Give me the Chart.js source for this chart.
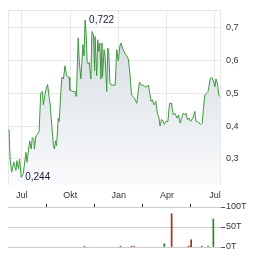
<!DOCTYPE html>
<html>
<head>
<meta charset="utf-8">
<script src="https://cdn.jsdelivr.net/npm/chart.js@4/dist/chart.umd.min.js"></script>
<style>
  body { margin: 0; background: #fff; }
  #wrap { position: relative; width: 264px; height: 255px; }
  #priceChart { position: absolute; left: 0; top: 0; }
  #volChart { position: absolute; left: 0; top: 195px; }
</style>
</head>
<body>
<div id="wrap">
  <canvas id="priceChart" width="264" height="202"></canvas>
  <canvas id="volChart" width="264" height="60"></canvas>
</div>
<script>
// --- Data (days counted from 1 Jul 2023) ---
const priceDays = [
  -24, -22, -19, -15, -11, -9, -6, -4, -1, 3,
  8, 10, 15, 18, 20, 23, 24, 27, 30, 33,
  36, 39, 41, 44, 47, 49, 52, 54, 57, 60,
  62, 64, 66, 68, 69, 71, 74, 76, 79, 82,
  85, 90, 91, 97, 101, 103, 104, 107, 109, 112,
  114, 116, 118, 120, 122, 124, 126, 128, 131, 133,
  136, 138, 139, 142, 144, 146, 148, 150, 152, 153,
  156, 158, 161, 163, 165, 167, 170, 173, 177, 180,
  183, 186, 188, 192, 196, 199, 202, 205, 208, 211,
  215, 218, 221, 223, 227, 230, 234, 237, 240, 242,
  245, 247, 251, 254, 257, 260, 262, 265, 268, 270,
  273, 277, 280, 283, 284, 287, 290, 294, 297, 300,
  303, 306, 309, 311, 314, 317, 320, 324, 326, 328,
  330, 333, 336, 339, 342, 344, 347, 350, 353, 357,
  360, 363, 366, 368, 371, 373, 376
];
const prices = [
  0.390, 0.300, 0.260, 0.290, 0.265, 0.295, 0.270, 0.300, 0.244, 0.256,
  0.320, 0.290, 0.355, 0.330, 0.365, 0.360, 0.330, 0.370, 0.375, 0.385,
  0.500, 0.505, 0.464, 0.495, 0.518, 0.526, 0.487, 0.464, 0.400, 0.340,
  0.330, 0.355, 0.340, 0.390, 0.424, 0.414, 0.500, 0.548, 0.543, 0.583,
  0.553, 0.548, 0.509, 0.505, 0.505, 0.490, 0.514, 0.667, 0.598, 0.543,
  0.593, 0.647, 0.613, 0.722, 0.682, 0.593, 0.588, 0.593, 0.543, 0.687,
  0.677, 0.568, 0.672, 0.553, 0.662, 0.627, 0.652, 0.543, 0.652, 0.548,
  0.632, 0.608, 0.505, 0.637, 0.623, 0.533, 0.524, 0.524, 0.524, 0.632,
  0.598, 0.643, 0.652, 0.632, 0.618, 0.613, 0.603, 0.558, 0.494, 0.490,
  0.480, 0.469, 0.509, 0.533, 0.524, 0.524, 0.519, 0.519, 0.524, 0.505,
  0.475, 0.480, 0.464, 0.475, 0.439, 0.424, 0.400, 0.420, 0.414, 0.405,
  0.414, 0.414, 0.469, 0.469, 0.464, 0.434, 0.439, 0.424, 0.434, 0.409,
  0.424, 0.439, 0.434, 0.439, 0.419, 0.424, 0.414, 0.424, 0.434, 0.444,
  0.414, 0.414, 0.409, 0.404, 0.409, 0.449, 0.494, 0.499, 0.505, 0.543,
  0.548, 0.538, 0.519, 0.543, 0.528, 0.494, 0.490
];

const volDays = [119, 187, 208, 213, 270, 284, 316, 319, 321, 341, 353, 363];
const volumes = [2000, 2000, 2000, 2000, 8000, 83000, 2000, 2000, 18000, 2000, 2000, 70000];
const volDir  = [1, -1, -1, -1, 1, -1, -1, 1, -1, -1, 1, 1];   // 1 = up day, -1 = down day

const monthDays   = [0, 92, 184, 275, 366];
const monthLabels = ['Jul', 'Okt', 'Jan', 'Apr', 'Jul'];
const priceTicks  = [0.3, 0.4, 0.5, 0.6, 0.7];
const volTicks    = [0, 50000, 100000];

// --- Shared bits ---
const X_MIN = -26, X_MAX = 377.5;
const GRID = '#e8e8e8';
const TEXT = '#333';
const font = { family: '"Liberation Sans", Arial, sans-serif', size: 9 };
const comma = (v, d) => v.toFixed(d).replace('.', ',');

// frame round the price plot area
const framePlugin = {
  id: 'frame',
  beforeDatasetsDraw(chart) {
    const a = chart.chartArea, c = chart.ctx;
    c.save();
    c.strokeStyle = GRID;
    c.lineWidth = 1;
    c.strokeRect(Math.round(a.left) + 0.5, Math.round(a.top) + 0.5,
                 Math.round(a.right - a.left) - 1, Math.round(a.bottom - a.top) - 1);
    c.restore();
  }
};

// high / low labels next to the extreme points
const extremesPlugin = {
  id: 'extremes',
  afterDatasetsDraw(chart) {
    const c = chart.ctx;
    const pts = chart.getDatasetMeta(0).data;
    let hi = 0, lo = 0;
    for (let i = 1; i < prices.length; i++) {
      if (prices[i] > prices[hi]) hi = i;
      if (prices[i] < prices[lo]) lo = i;
    }
    c.save();
    c.font = '10px "Liberation Sans", Arial, sans-serif';
    c.fillStyle = '#1a1a33';
    c.textAlign = 'left';
    c.textBaseline = 'middle';
    [hi, lo].forEach(i => {
      c.fillText(comma(prices[i], 3), pts[i].x + 4, pts[i].y);
    });
    c.restore();
  }
};

// --- Price chart ---
new Chart(document.getElementById('priceChart'), {
  type: 'line',
  data: {
    datasets: [{
      data: priceDays.map((d, i) => ({ x: d, y: prices[i] })),
      borderColor: '#3e9a3e',
      borderWidth: 1,
      pointRadius: 0,
      tension: 0,
      fill: 'start',
      backgroundColor: ctx => {
        const a = ctx.chart.chartArea;
        if (!a) return 'rgba(0,0,0,0)';
        const g = ctx.chart.ctx.createLinearGradient(0, a.top, 0, a.bottom);
        g.addColorStop(0, '#d0d8df');
        g.addColorStop(1, '#fafbfc');
        return g;
      }
    }]
  },
  options: {
    responsive: false,
    animation: false,
    events: [],
    layout: { padding: { left: 8, top: 7, right: 0, bottom: 0 } },
    plugins: { legend: { display: false }, tooltip: { enabled: false } },
    scales: {
      x: {
        type: 'linear',
        min: X_MIN,
        max: X_MAX,
        afterBuildTicks: axis => { axis.ticks = monthDays.map(v => ({ value: v })); },
        afterFit: axis => { axis.height = 17; },
        ticks: {
          callback: (v, i) => monthLabels[i],
          autoSkip: false,
          maxRotation: 0,
          padding: 5,
          color: TEXT,
          font
        },
        grid: { color: GRID, drawTicks: false },
        border: { display: false }
      },
      y: {
        position: 'right',
        min: 0.221,
        max: 0.751,
        afterBuildTicks: axis => { axis.ticks = priceTicks.map(v => ({ value: v })); },
        afterFit: axis => { axis.width = 43; },
        ticks: {
          callback: v => comma(v, 1),
          padding: 5,
          color: TEXT,
          font
        },
        grid: { color: GRID, drawTicks: false },
        border: { display: false }
      }
    }
  },
  plugins: [framePlugin, extremesPlugin]
});

// --- Volume chart ---
new Chart(document.getElementById('volChart'), {
  type: 'bar',
  data: {
    datasets: [{
      data: volDays.map((d, i) => ({ x: d, y: volumes[i] })),
      backgroundColor: volDir.map(s => s > 0 ? '#1f8a1f' : '#a8282a'),
      barThickness: 1
    }]
  },
  options: {
    responsive: false,
    animation: false,
    events: [],
    layout: { padding: { left: 8, top: 0, right: 0, bottom: 8 } },
    plugins: { legend: { display: false }, tooltip: { enabled: false } },
    scales: {
      x: {
        type: 'linear',
        position: 'top',
        min: X_MIN,
        max: X_MAX,
        offset: false,
        afterBuildTicks: axis => { axis.ticks = monthDays.map(v => ({ value: v })); },
        afterFit: axis => { axis.height = 12; },
        ticks: { display: false },
        grid: { drawOnChartArea: false, drawTicks: true, tickLength: 3, tickColor: '#333' },
        border: { display: false }
      },
      y: {
        position: 'right',
        min: 0,
        max: 100000,
        afterBuildTicks: axis => { axis.ticks = volTicks.map(v => ({ value: v })); },
        afterFit: axis => { axis.width = 43; },
        ticks: {
          callback: v => (v / 1000) + 'T',
          padding: 1,
          color: TEXT,
          font
        },
        grid: { color: '#cccccc', tickColor: '#555', tickLength: 4 },
        border: { display: false }
      }
    }
  }
});
</script>
</body>
</html>
